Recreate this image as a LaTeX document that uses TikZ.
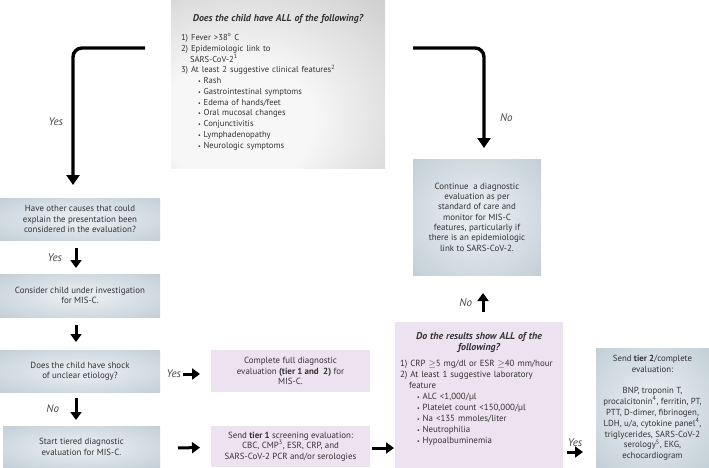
\documentclass[tikz,border=0pt]{standalone}
\usepackage{fontspec}
\setmainfont{PT Sans}
\usetikzlibrary{arrows.meta,positioning}
\definecolor{ink}{HTML}{333335}
\definecolor{boxin}{HTML}{E4EAEE}
\definecolor{boxout}{HTML}{A2B4C0}
\definecolor{grayin}{HTML}{F7F7F7}
\definecolor{grayout}{HTML}{A9A9A9}
\definecolor{pinkfill}{HTML}{EDE2EF}
\pgfdeclareradialshading{grayglow}{\pgfpoint{-12bp}{-14bp}}{color(0bp)=(grayin); color(18bp)=(grayin); color(70bp)=(grayout); color(90bp)=(grayout)}
\pgfdeclareradialshading{blueglow}{\pgfpoint{0bp}{0bp}}{color(0bp)=(boxin); color(8bp)=(boxin); color(62bp)=(boxout); color(80bp)=(boxout)}
\newcommand{\itembul}{\hspace*{17pt}{\fontsize{6}{6}\selectfont\textbullet}\ }

\begin{document}
\begin{tikzpicture}[x=1pt,y=-1pt,
 every node/.style={text=ink,font=\fontsize{8.9}{10.3}\selectfont,inner sep=0pt,outer sep=0pt},
 bluebox/.style={shade,shading=blueglow,align=center},
 pinkbox/.style={fill=pinkfill,align=center},
 arr/.style={line width=3.4pt,-{Triangle[length=10pt,width=13pt]}},
 arrs/.style={line width=3pt,-{Triangle[length=8pt,width=11pt]}},
 lbl/.style={font=\fontsize{11}{12}\selectfont\itshape,text=ink!90}]

\useasboundingbox (0,0) rectangle (709,468);

%top question
\node[shade,shading=grayglow,minimum width=214pt,minimum height=168pt,
 text width=194pt] (allq) at (278,84) {%
 {\centering\fontsize{9.9}{12}\selectfont\bfseries\itshape Does the child have ALL of the following?\par}
 \vspace{8pt}\raggedright\fontsize{8.6}{10.75}\selectfont
 1) Fever >38\textsuperscript{o} C\\
 2) Epidemiologic link to\\
 \hspace*{9pt}SARS-CoV-2\textsuperscript{1}\\
 3) At least 2 suggestive clinical features\textsuperscript{2}\\
 \itembul Rash\\
 \itembul Gastrointestinal symptoms\\
 \itembul Edema of hands/feet\\
 \itembul Oral mucosal changes\\
 \itembul Conjunctivitis\\
 \itembul Lymphadenopathy\\
 \itembul Neurologic symptoms\par
 \vspace{3pt}};

%left column
\node[bluebox,minimum width=160pt,minimum height=42pt] (causes) at (80,219)
 {Have other causes that could\\ explain the presentation been\\ considered in the evaluation?};
\node[bluebox,minimum width=160pt,minimum height=43pt] (consider) at (80,295.5)
 {Consider child under investigation\\ for MIS-C.};
\node[bluebox,minimum width=160pt,minimum height=42pt] (shock) at (80,371)
 {Does the child have shock\\ of unclear etiology?};
\node[bluebox,minimum width=157pt,minimum height=42pt] (start) at (81.5,447)
 {Start tiered diagnostic\\ evaluation for MIS-C.};

%middle column
\node[pinkbox,minimum width=159pt,minimum height=42pt] (complete) at (290.5,371)
 {Complete full diagnostic\\ evaluation \textbf{(tier 1 and~ 2)} for\\ MIS-C.};
\node[pinkbox,minimum width=159pt,minimum height=41pt] (tier1) at (290.5,446.5)
 {Send \textbf{tier 1} screening evaluation:\\ CBC, CMP\textsuperscript{3}, ESR, CRP, and\\ SARS-CoV-2 PCR and/or serologies};

%right part
\node[bluebox,minimum width=128pt,minimum height=116pt] (cont) at (477,217)
 {Continue~ a diagnostic\\ evaluation as per\\ standard of care and\\ monitor for MIS-C\\ features, particularly if\\ there is an epidemiologic\\ link to SARS-CoV-2.};
\node[fill=pinkfill,minimum width=168pt,minimum height=146pt,text width=158pt] (results) at (479,395) {%
 {\centering\fontsize{9.9}{10.5}\selectfont\bfseries\itshape Do the results show ALL of the\\ following?\par}
 \vspace{5pt}\raggedright\fontsize{8.9}{11}\selectfont
 1) CRP $\geq$5 mg/dl or ESR $\geq$40 mm/hour\\
 2) At least 1 suggestive laboratory\\
 \hspace*{9pt}feature\\
 \itembul ALC <1,000/µl\\
 \itembul Platelet count <150,000/µl\\
 \itembul Na <135 mmoles/liter\\
 \itembul Neutrophilia\\
 \itembul Hypoalbuminemia\par
 \vspace{12pt}};
\node[bluebox,minimum width=113pt,minimum height=120pt,font=\fontsize{8.8}{10.9}\selectfont] (tier2) at (652.5,408)
 {Send \textbf{tier 2}/complete\\ evaluation:\\[10pt] BNP, troponin T,\\ procalcitonin\textsuperscript{4}, ferritin, PT,\\ PTT, D-dimer, fibrinogen,\\ LDH, u/a, cytokine panel\textsuperscript{4},\\ triglycerides, SARS-CoV-2\\ serology\textsuperscript{5}, EKG,\\ echocardiogram};

%arrows from the top question
\coordinate (yesfrom) at (145,48);
\coordinate (nofrom) at (413,48);
\draw[arr,rounded corners=9pt] (yesfrom) -| ([xshift=-7pt,yshift=13pt]causes.north)
 node[lbl,pos=0.77,left=10pt] (yes1) {Yes};
\draw[arr,rounded corners=9pt] (nofrom) -| ([xshift=7pt,yshift=11pt]cont.north)
 node[lbl,pos=0.85,right=16pt] (no1) {No};

%left column arrows
\draw[arrs] ([xshift=-4pt,yshift=-8pt]causes.south) -- ([xshift=-4pt,yshift=6pt]consider.north)
 node[lbl,midway,left=14pt] (yes2) {Yes};
\draw[arrs] ([xshift=-4pt,yshift=-8pt]consider.south) -- ([xshift=-4pt,yshift=8pt]shock.north);
\draw[arrs] ([xshift=-4pt,yshift=-6pt]shock.south) -- ([xshift=-5.5pt,yshift=6pt]start.north)
 node[lbl,midway,left=17pt] (no2) {No};

%across
\draw[arrs] ([xshift=23pt,yshift=-3pt]shock.east) -- ([xshift=-11pt,yshift=-3pt]complete.west)
 node[lbl,pos=0,left=2pt] (yes3) {Yes};
\draw[arrs] ([xshift=18pt,yshift=-1pt]start.east) -- ([xshift=-11pt,yshift=-1pt]tier1.west);
\draw[arrs] ([xshift=2pt,yshift=-1.5pt]tier1.east) -- ([xshift=-1pt,yshift=-1.5pt]tier1.east -| results.west);
\draw[arrs] ([xshift=4pt,yshift=10pt]results.north) -- ([xshift=6pt,yshift=-18pt]cont.south)
 node[lbl,midway,left=11pt] (no3) {No};
\draw[arrs] ([xshift=4pt,yshift=-57pt]results.east) -- ([xshift=-13pt,yshift=-44pt]tier2.west)
 node[lbl,midway,above=5pt] (yes4) {Yes};

\end{tikzpicture}
\end{document}
